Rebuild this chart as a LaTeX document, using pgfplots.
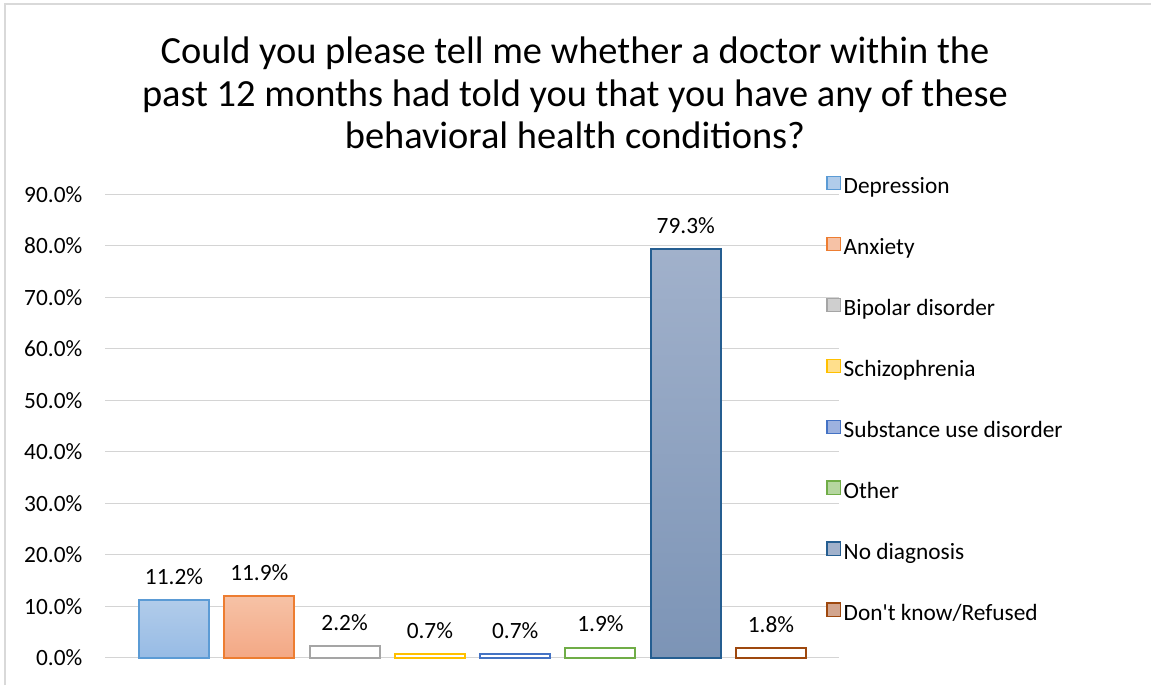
\documentclass[border=0pt]{standalone}
\usepackage{pgfplots}
\pgfplotsset{compat=1.18}
\usepackage{fontspec}
\setmainfont{Carlito}
\definecolor{cDep}{HTML}{5B9BD5}
\definecolor{cDepT}{HTML}{B1CCEA}
\definecolor{cDepB}{HTML}{97BBE5}
\definecolor{cAnx}{HTML}{ED7D31}
\definecolor{cAnxT}{HTML}{F6C2A6}
\definecolor{cAnxB}{HTML}{F4A885}
\definecolor{cBip}{HTML}{A5A5A5}
\definecolor{cBipF}{HTML}{CFCFCF}
\definecolor{cSch}{HTML}{FFC000}
\definecolor{cSchF}{HTML}{FFDF8C}
\definecolor{cSub}{HTML}{4472C4}
\definecolor{cSubF}{HTML}{9DB2DF}
\definecolor{cOth}{HTML}{70AD47}
\definecolor{cOthF}{HTML}{B5D6A0}
\definecolor{cNo}{HTML}{255E91}
\definecolor{cNoT}{HTML}{A1B1CB}
\definecolor{cNoB}{HTML}{7C94B6}
\definecolor{cDk}{HTML}{9E480E}
\definecolor{cDkF}{HTML}{D2A58E}
\begin{document}
\begin{tikzpicture}
\path[use as bounding box] (0pt,0pt) rectangle (863.25pt,513.75pt);
\draw[black!15, line width=1.5pt] (4pt,0pt) -- (4pt,510.75pt) -- (863.25pt,510.75pt);
\begin{scope}[every node/.style={font=\fontsize{28.8}{34}\selectfont, anchor=base, inner sep=0pt}]
\node at (431.25pt,465.75pt) {Could you please tell me whether a doctor within the};
\node at (431.25pt,433.9pt) {past 12 months had told you that you have any of these};
\node at (431.25pt,402pt) {behavioral health conditions?};
\end{scope}
\begin{axis}[
  at={(78.75pt,20.5pt)}, anchor=south west,
  scale only axis, width=550.5pt, height=347.5pt,
  xmin=-0.809, xmax=7.797, ymin=0, ymax=90,
  xtick=\empty, ytick={0,10,...,90},
  ymajorgrids, major grid style={black!17, line width=1pt},
  axis line style={draw=none}, ytick style={draw=none},
  /pgf/number format/assume math mode=true,
  yticklabel={\pgfmathprintnumber[fixed,fixed zerofill,precision=1]{\tick}\%},
  yticklabel style={font=\fontsize{17.5}{21}\selectfont, xshift=-13.5pt},
  ybar, bar width=52.5pt, bar shift=0pt,
  nodes near coords={\pgfmathprintnumber[fixed,fixed zerofill,precision=1,assume math mode=true]{\pgfplotspointmeta}\%},
  every node near coord/.append style={font=\fontsize{17.5}{21}\selectfont, black, anchor=base, inner sep=0pt, yshift=12pt},
  legend image code/.code={\draw[#1, line width=1pt] (0pt,-1.5pt) rectangle (10pt,8.5pt);},
  legend style={at={(0.977,1.047)}, anchor=north west, draw=none, fill=none,
    font=\fontsize{17.5}{21}\selectfont, row sep=27.2pt, column sep=1pt,
    nodes={inner sep=1pt, text height=12.5pt, text depth=4pt}},
  legend cell align=left,
  clip=false,
]
\addlegendimage{fill=cDepT, draw=cDep}\addlegendentry{Depression}
\addlegendimage{fill=cAnxT, draw=cAnx}\addlegendentry{Anxiety}
\addlegendimage{fill=cBipF, draw=cBip}\addlegendentry{Bipolar disorder}
\addlegendimage{fill=cSchF, draw=cSch}\addlegendentry{Schizophrenia}
\addlegendimage{fill=cSubF, draw=cSub}\addlegendentry{Substance use disorder}
\addlegendimage{fill=cOthF, draw=cOth}\addlegendentry{Other}
\addlegendimage{fill=cNoT, draw=cNo}\addlegendentry{No diagnosis}
\addlegendimage{fill=cDkF, draw=cDk}\addlegendentry{Don\textquotesingle t know/Refused}
\addplot[forget plot, draw=cDep, line width=1.5pt, top color=cDepT, bottom color=cDepB] coordinates {(0,11.2)};
\addplot[forget plot, draw=cAnx, line width=1.5pt, top color=cAnxT, bottom color=cAnxB] coordinates {(1,11.9)};
\addplot[forget plot, draw=cBip, line width=1.5pt, fill=white] coordinates {(2,2.2)};
\addplot[forget plot, draw=cSch, line width=1.5pt, fill=white] coordinates {(3,0.7)};
\addplot[forget plot, draw=cSub, line width=1.5pt, fill=white] coordinates {(4,0.7)};
\addplot[forget plot, draw=cOth, line width=1.5pt, fill=white] coordinates {(5,1.9)};
\addplot[forget plot, draw=cNo, line width=1.5pt, top color=cNoT, bottom color=cNoB] coordinates {(6,79.3)};
\addplot[forget plot, draw=cDk, line width=1.5pt, fill=white] coordinates {(7,1.8)};
\end{axis}
\end{tikzpicture}
\end{document}
